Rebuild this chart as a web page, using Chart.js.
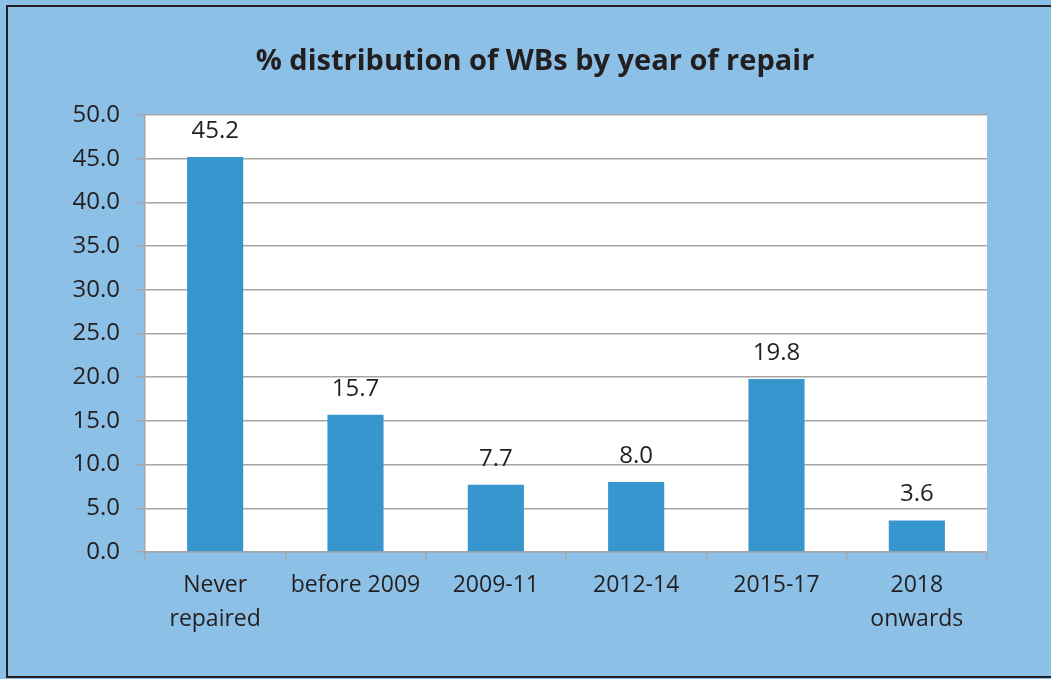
<!DOCTYPE html>
<html>
<head>
<meta charset="utf-8">
<script src="https://cdn.jsdelivr.net/npm/chart.js@4.4.1/dist/chart.umd.min.js"></script>
<style>
  html, body { margin: 0; padding: 0; background: #ffffff; }
  #wrap { position: relative; width: 1051px; height: 679px; }
</style>
</head>
<body>
<div id="wrap"><canvas id="chart" width="1051" height="679"></canvas></div>
<script>
// Share of water bodies by year of their last repair (%)
const categories = [["Never", "repaired"], "before 2009", "2009-11", "2012-14", "2015-17", ["2018", "onwards"]];
const shares = [45.2, 15.7, 7.7, 8.0, 19.8, 3.6];
const yTicks = [0, 5, 10, 15, 20, 25, 30, 35, 40, 45, 50];
const chartTitle = '% distribution of WBs by year of repair';

const TEXT = '#231f20';
const GRID = '#a6a6a6';
const FONT = "'Open Sans', sans-serif";

// Panel background, frame and heading
const panel = {
  id: 'panel',
  beforeDraw(chart) {
    const ctx = chart.ctx;
    const a = chart.chartArea;
    ctx.save();
    ctx.fillStyle = '#8dc0e6';
    ctx.fillRect(0, 0, chart.width, chart.height);
    ctx.strokeStyle = '#231f20';
    ctx.lineWidth = 2;
    ctx.strokeRect(7, 6, chart.width + 10, 671);
    ctx.fillStyle = '#ffffff';
    ctx.fillRect(a.left, a.top, a.right - a.left, a.bottom - a.top);
    ctx.fillStyle = TEXT;
    ctx.font = "bold 29px " + FONT;
    ctx.textAlign = 'center';
    ctx.textBaseline = 'middle';
    ctx.fillText(chartTitle, 535, 62);
    ctx.restore();
  }
};

// Value printed above each bar
const valueLabels = {
  id: 'valueLabels',
  afterDatasetsDraw(chart) {
    const ctx = chart.ctx;
    const meta = chart.getDatasetMeta(0);
    ctx.save();
    ctx.fillStyle = TEXT;
    ctx.font = "24px " + FONT;
    ctx.textAlign = 'center';
    ctx.textBaseline = 'middle';
    meta.data.forEach((bar, i) => {
      ctx.fillText(shares[i].toFixed(1), bar.x, bar.y - 26);
    });
    ctx.restore();
  }
};

new Chart(document.getElementById('chart'), {
  type: 'bar',
  data: {
    labels: categories,
    datasets: [{
      data: shares,
      backgroundColor: '#3796ce',
      borderWidth: 0,
      barPercentage: 0.4,
      categoryPercentage: 1.0
    }]
  },
  options: {
    responsive: false,
    animation: false,
    layout: { padding: { top: 115, right: 64, left: 0, bottom: 0 } },
    plugins: {
      legend: { display: false },
      tooltip: { enabled: false },
      title: { display: false }
    },
    scales: {
      x: {
        afterFit(scale) { scale.height = 127; },
        grid: {
          offset: true,
          drawOnChartArea: false,
          drawTicks: true,
          tickLength: 8,
          color: GRID,
          lineWidth: 1.5
        },
        border: { color: GRID, width: 1.5 },
        ticks: {
          color: TEXT,
          padding: 9,
          maxRotation: 0,
          autoSkip: false,
          font: { family: FONT, size: 23, lineHeight: 1.45 }
        }
      },
      y: {
        min: 0,
        max: 50,
        afterFit(scale) { scale.width = 145; },
        afterBuildTicks(scale) { scale.ticks = yTicks.map(v => ({ value: v })); },
        grid: {
          drawTicks: true,
          tickLength: 8,
          color: GRID,
          lineWidth: 1.5
        },
        border: { color: GRID, width: 1.5 },
        ticks: {
          color: TEXT,
          padding: 17,
          font: { family: FONT, size: 24 },
          callback: (v) => Number(v).toFixed(1)
        }
      }
    }
  },
  plugins: [panel, valueLabels]
});
</script>
</body>
</html>
